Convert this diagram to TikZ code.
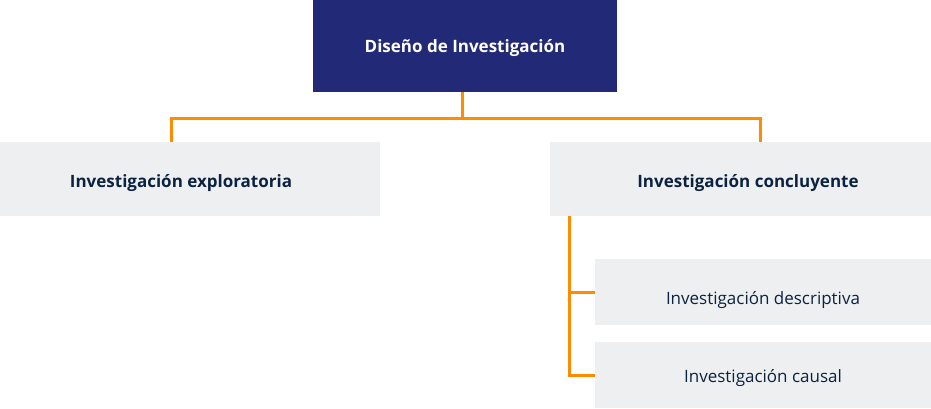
\documentclass[tikz,border=0pt]{standalone}
\usepackage{fontspec}
\setmainfont{Open Sans}
\usetikzlibrary{positioning, calc}
\definecolor{navy}{HTML}{222A78}
\definecolor{boxgray}{HTML}{EEEFF1}
\definecolor{ink}{HTML}{0B2340}
\definecolor{branch}{HTML}{FF8C00}
\tikzset{
  root/.style  = {rectangle, fill=navy, text=white, minimum width=304pt, minimum height=92pt,
                  inner sep=0pt, font=\fontsize{17}{20}\selectfont\bfseries},
  tier/.style  = {rectangle, fill=boxgray, text=ink, minimum height=74pt, inner sep=0pt,
                  font=\fontsize{17}{20}\selectfont\bfseries},
  leaf/.style  = {rectangle, fill=boxgray, text=ink, minimum width=336pt, minimum height=66pt,
                  inner sep=0pt, font=\fontsize{17}{20}\selectfont},
  drop/.style  = {text height=#1, text depth=0pt},
  link/.style  = {draw=branch, line width=3pt}
}
\begin{document}
\begin{tikzpicture}[x=1pt, y=-1pt]
\useasboundingbox (0,0) rectangle (931,408);
%% ===== top =====
\node[root, drop=13pt] (dis) at (465,46) {Diseño de Investigación};
%% ===== second row =====
\node[tier, drop=16pt, minimum width=398pt] (expl) at (181,179) {Investigación exploratoria};
\node[tier, drop=16pt, minimum width=396pt] (concl) at (748,179) {Investigación concluyente};
\draw[link] ([xshift=-3pt]dis.south) -- ++(0,26) -| ([xshift=-10pt]expl.north);
\draw[link] ([xshift=-3pt]dis.south) -- ++(0,26) -| ([xshift=12pt]concl.north);
%% ===== under concluyente =====
\node[leaf, drop=25pt] (desc) at (763,292) {Investigación descriptiva};
\node[leaf, drop=15pt] (caus) at (763,375) {Investigación causal};
\draw[link] ([xshift=20pt]concl.south west) |- (desc.west);
\draw[link] ([xshift=20pt]concl.south west) |- (caus.west);
\end{tikzpicture}
\end{document}
